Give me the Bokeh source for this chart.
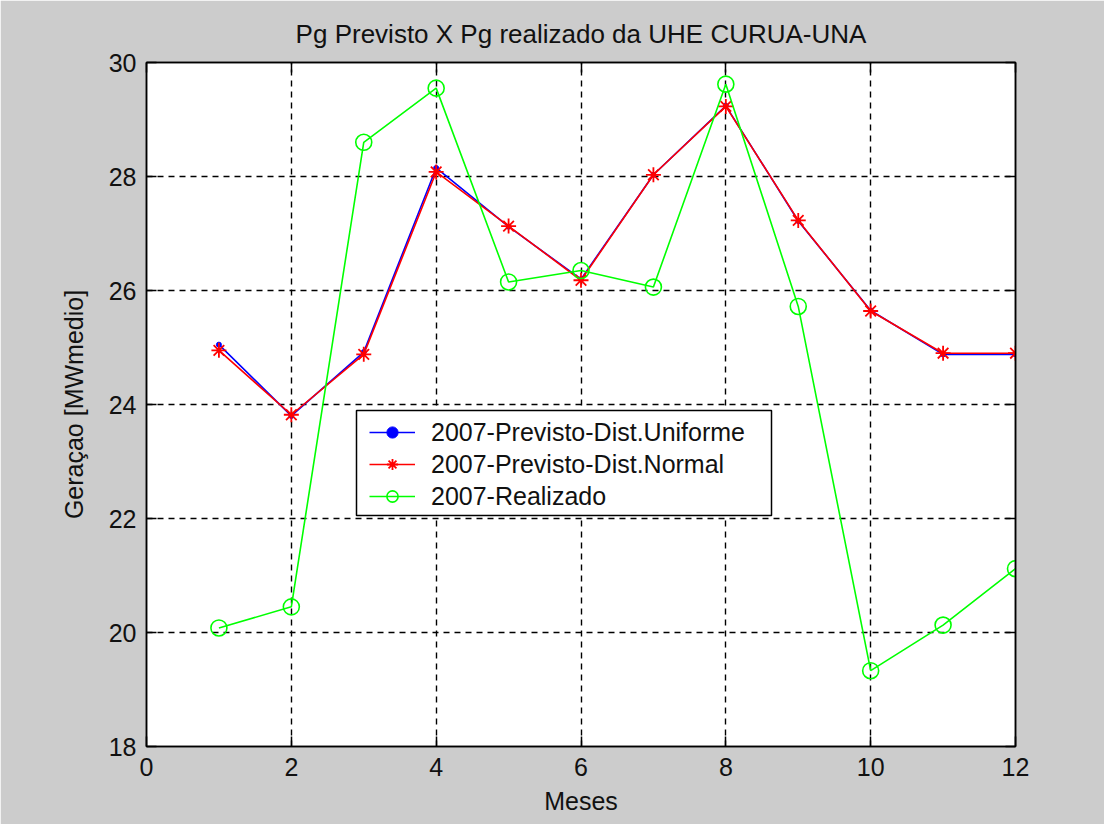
from bokeh.plotting import figure
from bokeh.models import LinearAxis, FixedTicker, Range1d, Legend, LegendItem, BoxAnnotation
from bokeh.embed import file_html
from bokeh.resources import INLINE

meses = [1, 2, 3, 4, 5, 6, 7, 8, 9, 10, 11, 12]
uniforme = [25.05, 23.80, 24.92, 28.15, 27.12, 26.20, 28.03, 29.24, 27.22, 25.65, 24.88, 24.88]
normal = [24.95, 23.82, 24.88, 28.08, 27.13, 26.18, 28.03, 29.23, 27.23, 25.64, 24.90, 24.90]
realizado = [20.08, 20.45, 28.60, 29.55, 26.15, 26.35, 26.06, 29.62, 25.72, 19.33, 20.13, 21.12]
x_ticks = [0, 2, 4, 6, 8, 10, 12]
y_ticks = [18, 20, 22, 24, 26, 28, 30]

FONT = "Liberation Sans"
GRAY = "#cccccc"

p = figure(width=1104, height=824, output_backend="svg", toolbar_location=None,
           x_range=Range1d(0, 12), y_range=Range1d(18, 30),
           min_border_left=146, min_border_right=89, min_border_top=62, min_border_bottom=78,
           title="Pg Previsto X Pg realizado da UHE CURUA-UNA")

p.background_fill_color = "white"
p.border_fill_color = GRAY
p.outline_line_color = "black"
p.outline_line_width = 1.5

p.title.align = "center"
p.title.text_font = FONT
p.title.text_font_size = "26px"
p.title.text_font_style = "normal"
p.title.text_color = "#111111"
p.title.standoff = 28

for ax in (p.xaxis[0], p.yaxis[0]):
    ax.major_tick_in = 10
    ax.major_tick_out = 0
    ax.minor_tick_line_color = None
    ax.axis_line_color = "black"
    ax.axis_line_width = 1.5
    ax.major_tick_line_color = "black"
    ax.major_tick_line_width = 1.5
    ax.major_label_text_font = FONT
    ax.major_label_text_font_size = "25px"
    ax.major_label_text_color = "#111111"
    ax.axis_label_text_font = FONT
    ax.axis_label_text_font_size = "25px"
    ax.axis_label_text_font_style = "normal"
    ax.axis_label_text_color = "#111111"

p.xaxis[0].ticker = FixedTicker(ticks=x_ticks)
p.yaxis[0].ticker = FixedTicker(ticks=y_ticks)
p.xaxis[0].axis_label = "Meses"
p.yaxis[0].axis_label = "Geraçao [MWmedio]"
p.xaxis[0].major_label_standoff = 11
p.xaxis[0].axis_label_standoff = 8
p.yaxis[0].major_label_standoff = 10
p.yaxis[0].axis_label_standoff = 18

for loc, ticks in (("above", x_ticks), ("right", y_ticks)):
    ax = LinearAxis(ticker=FixedTicker(ticks=ticks))
    ax.major_tick_in = 10
    ax.major_tick_out = 0
    ax.minor_tick_line_color = None
    ax.major_label_text_font_size = "0px"
    ax.major_label_text_color = None
    ax.axis_line_color = "black"
    ax.axis_line_width = 1.5
    ax.major_tick_line_color = "black"
    ax.major_tick_line_width = 1.5
    p.add_layout(ax, loc)

for g in (p.xgrid[0], p.ygrid[0]):
    g.grid_line_color = "black"
    g.grid_line_dash = "6 5"
    g.grid_line_width = 1.4
p.xgrid[0].ticker = FixedTicker(ticks=x_ticks)
p.ygrid[0].ticker = FixedTicker(ticks=y_ticks)

l1 = p.line(meses, uniforme, line_color="#0000ff", line_width=1.6)
m1 = p.scatter(meses, uniforme, marker="circle", size=5, fill_color="#0000ff", line_color="#0000ff")
l2 = p.line(meses, normal, line_color="#ff0000", line_width=1.6)
m2 = p.scatter(meses, normal, marker="asterisk", size=15, line_color="#ff0000", line_width=1.8)
l3 = p.line(meses, realizado, line_color="#00ff00", line_width=1.6)
m3 = p.scatter(meses, realizado, marker="circle", size=16, fill_color=None, line_color="#00ff00", line_width=1.6)

# legend frame (screen units relative to the plot frame, y measured upward)
box = BoxAnnotation(left=210, right=625, top=336, bottom=231,
                    left_units="screen", right_units="screen",
                    top_units="screen", bottom_units="screen",
                    fill_color="white", fill_alpha=1.0,
                    line_color="black", line_alpha=1.0, line_width=1.5, level="annotation")
p.add_layout(box)

legend = Legend(items=[
    LegendItem(label="2007-Previsto-Dist.Uniforme", renderers=[l1, m1]),
    LegendItem(label="2007-Previsto-Dist.Normal", renderers=[l2, m2]),
    LegendItem(label="2007-Realizado", renderers=[l3, m3]),
], location=(223, 234))
legend.label_text_font = FONT
legend.label_text_font_size = "25px"
legend.label_text_color = "#111111"
legend.glyph_width = 46
legend.glyph_height = 28
legend.label_height = 32
legend.label_standoff = 16
legend.spacing = 0
legend.padding = 4
legend.margin = 0
legend.border_line_color = None
legend.background_fill_alpha = 0.0
p.add_layout(legend, "center")

open("out.html", "w").write(file_html(p, INLINE))
